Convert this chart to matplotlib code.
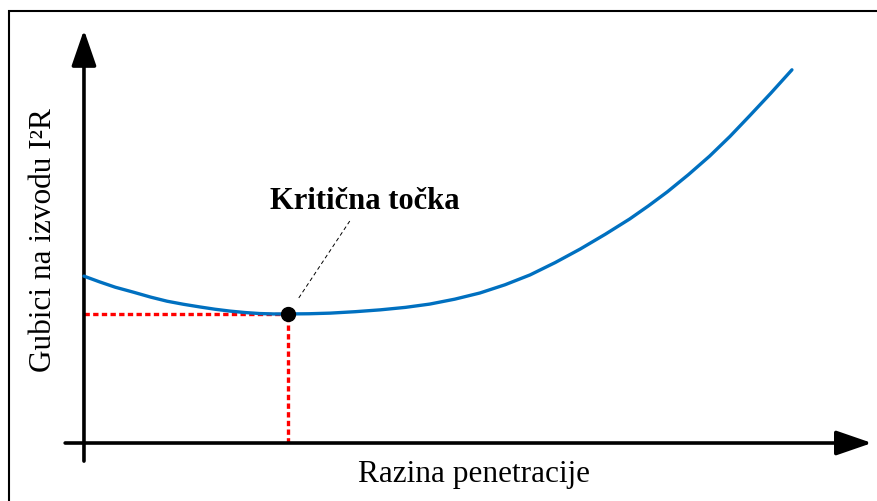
import matplotlib.pyplot as plt
from matplotlib.patches import Rectangle

plt.rcParams['font.family'] = ['Liberation Serif', 'DejaVu Serif']

# Curve (penetration level vs. I2R losses, arbitrary units)
penetration = [0.0, 1.0, 2.0, 4.0, 6.3, 8.5, 10.6, 12.7, 14.8, 16.7, 18.6,
               20.5, 22.4, 24.2, 26.0, 28.7, 31.4, 34.6, 37.8, 41.0, 44.1,
               47.3, 50.5, 53.7, 56.9, 60.1, 63.3, 66.5, 69.6, 72.0, 74.4,
               77.1, 79.8, 82.4, 84.9, 87.6, 90.3]
losses = [40.6, 39.9, 39.2, 37.9, 36.7, 35.5, 34.5, 33.75, 33.1, 32.55, 32.1,
          31.75, 31.5, 31.4, 31.4, 31.45, 31.6, 31.95, 32.4, 33.0, 33.8,
          35.0, 36.5, 38.5, 40.9, 43.9, 47.2, 50.8, 54.5, 57.7, 61.1,
          65.3, 69.8, 74.6, 79.6, 85.1, 90.8]

# Critical point
crit_x = 26.0
crit_y = 31.4

label_text = "Kritična točka"
label_pos = (35.8, 58.9)
xlabel = "Razina penetracije"
ylabel = "Gubici na izvodu I²R"

fig = plt.figure(figsize=(8.77, 5.02), dpi=100)
ax = fig.add_axes([0, 0, 1, 1])
ax.set_xlim(-10.71, 101.15)
ax.set_ylim(-14.11, 108.03)
ax.axis("off")

# outer frame (runs off the right and bottom edges)
fig.patches.append(Rectangle((9 / 877, -0.2), 1.2, 1.2 - 12 / 502,
                             transform=fig.transFigure, fill=False,
                             edgecolor="black", linewidth=1.5))

# axes with arrows
arrow = dict(arrowstyle="-|>,head_length=1.1,head_width=0.38", color="black",
             lw=2.6, mutation_scale=20, shrinkA=0, shrinkB=0)
ax.annotate("", xy=(100.5, 0), xytext=(-2.4, 0), arrowprops=arrow)
ax.annotate("", xy=(0, 100.5), xytext=(0, -4.4), arrowprops=arrow)

# red dotted guide lines
ax.plot([0, crit_x], [crit_y, crit_y], color="#FF0000", lw=2.4,
        linestyle=(0, (1.6, 1.0)), zorder=2)
ax.plot([crit_x, crit_x], [0, crit_y], color="#FF0000", lw=2.4,
        linestyle=(0, (1.6, 1.0)), zorder=2)

# loss curve
ax.plot(penetration, losses, color="#0070C0", lw=2.4,
        solid_capstyle="round", solid_joinstyle="round", zorder=3)
ax.plot(crit_x, crit_y, "o", color="black", ms=10, zorder=4)

# annotation
ax.plot([27.4, 33.9], [35.3, 54.0], color="black", lw=0.7,
        linestyle=(0, (4, 3)), zorder=3)
ax.text(label_pos[0], label_pos[1], label_text, fontsize=22,
        fontweight="bold", ha="center", va="center")

ax.text(49.7, -7.5, xlabel, fontsize=22.5, ha="center", va="center")
ax.text(-5.1, 49.6, ylabel, fontsize=22.5, ha="center", va="center",
        rotation=90)

plt.savefig("out.png", dpi=100)
